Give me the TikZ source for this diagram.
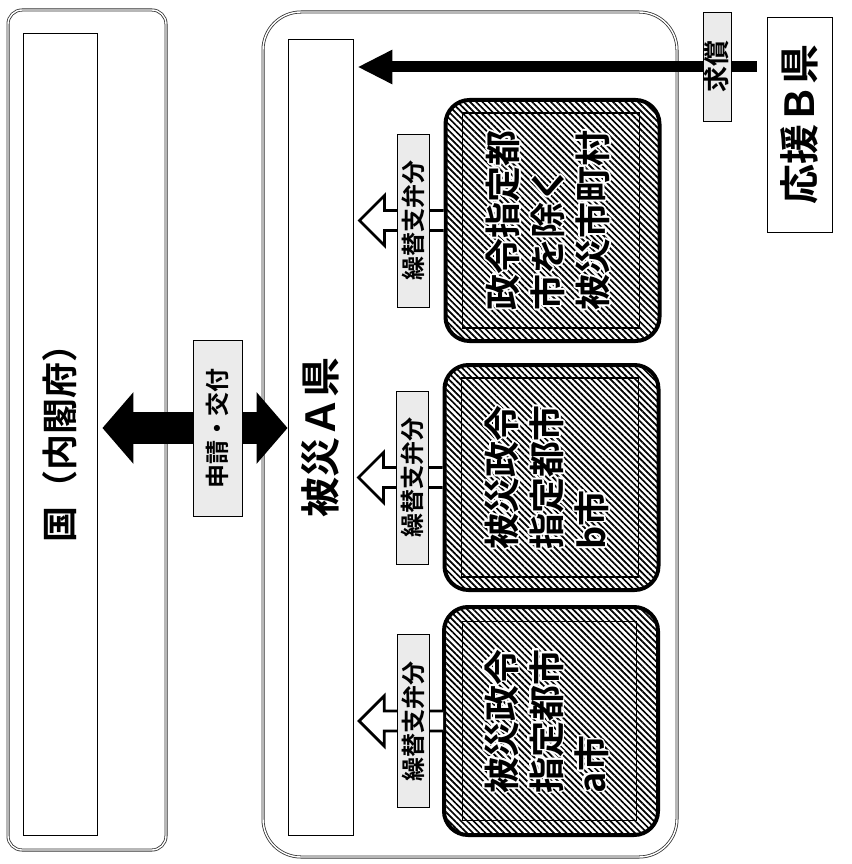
\documentclass[tikz,border=0pt]{standalone}
\usepackage{fontspec}
\setmainfont{Noto Sans CJK JP}[BoldFont={Noto Sans CJK JP Bold}]
\usepackage[copies]{contour}
\contourlength{1.6pt}
\usetikzlibrary{arrows.meta,patterns.meta,calc,positioning}

\newcommand{\vtext}[1]{\rotatebox{90}{#1}}
\newcommand{\vlines}[1]{\rotatebox{90}{\begin{tabular}{@{}l@{}}#1\end{tabular}}}
\newcommand{\wt}[1]{\contour{white}{#1}}

\tikzset{
  frame/.style={draw=black!80,double=white,double distance=1.4pt,line width=0.8pt},
  band/.style={draw,line width=0.9pt},
  city/.style={draw,line width=4pt,rounded corners=24pt,minimum width=214pt,
    pattern={Lines[angle=-45,distance=4.4pt,line width=1.7pt]},
    font=\bfseries\fontsize{36}{45}\selectfont},
  tag/.style={draw,line width=0.8pt,fill=black!8,inner sep=0pt},
  hollow/.style={draw,fill=white,line width=2.8pt,line join=miter},
  fs/.style={font=\bfseries\fontsize{#1}{#1}\selectfont},
}

\begin{document}
\begin{tikzpicture}[x=1pt,y=-1pt]
\useasboundingbox (0,0) rectangle (851,864);

% national government
\node[frame,rounded corners=14pt,minimum width=158pt,minimum height=840pt] (kunif) at (87,430) {};
\node[band,minimum width=74pt,minimum height=802pt,fs=36] (kuni) at (60,434) {\vtext{国（内閣府）}};

% affected prefecture A
\node[frame,rounded corners=38pt,minimum width=414pt,minimum height=845pt] (kenf) at (470,434.5) {};
\node[band,minimum width=65pt,minimum height=796pt,fs=40] (ken) at (320.5,437) {\vtext{被災Ａ県}};

% application / grant
\coordinate (mid) at (217.5,428);
\draw[line width=32pt,{Triangle[length=31pt,width=70pt]}-{Triangle[length=31pt,width=70pt]},shorten <=5pt]
  (kuni.east |- mid) -- (ken.west |- mid);
\node[tag,minimum width=49pt,minimum height=176pt,fs=24] (shinsei) at (mid) {\vtext{申請・交付}};

% supporting prefecture B
\node[band,minimum width=65pt,minimum height=215pt,fs=40] (kenB) at (799.5,124.5) {\vtext{応援Ｂ県}};
\coordinate (kq) at (717,67);
\draw[line width=11pt,-{Triangle[length=35pt,width=32pt]},shorten <=10pt,shorten >=4pt]
  (kenB.west |- kq) -- (ken.east |- kq);
\node[tag,minimum width=28pt,minimum height=109pt,fs=26] (kyusho) at (kq) {\vtext{求償}};

% municipalities
\node[city,minimum height=228pt] (ca) at (551,721)
  {\vlines{\wt{被災政令}\\\wt{指定都市}\\\wt{a市}}};
\node[city,minimum height=225pt] (cb) at (551.5,477.5)
  {\vlines{\wt{被災政令}\\\wt{指定都市}\\\wt{b市}}};
\node[city,minimum height=241pt] (cc) at (552.5,220.5)
  {\vlines{\wt{政令指定都}\\\wt{市を除く}\\\wt{被災市町村}}};

\foreach \c in {ca,cb,cc}{
  \draw[line width=1.2pt] ($(\c.north west)+(19,15)$) rectangle ($(\c.south east)+(-22,-15)$);
  \draw[hollow] (\c.west) ++(0,-10) -- ++(-59,0) -- ++(0,-15) -- ++(-25,25)
    -- ++(25,25) -- ++(0,-15) -- ++(59,0);
  \node[tag,minimum width=32pt,minimum height=173pt,fs=24] (t\c) at ($(\c.west)+(-30,0)$) {\vtext{繰替支弁分}};
}
\end{tikzpicture}
\end{document}
